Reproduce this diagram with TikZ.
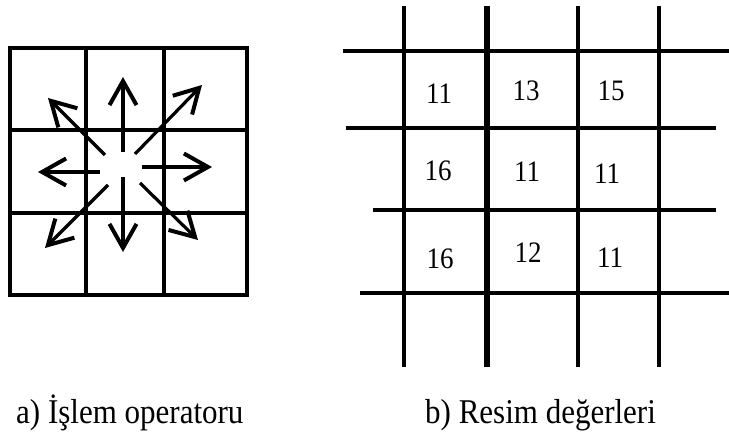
\documentclass[tikz,border=0pt]{standalone}
\usepackage{fontspec}
\setmainfont{Liberation Serif}
\usetikzlibrary{arrows.meta}
\begin{document}
\begin{tikzpicture}[x=1pt,y=-1pt,
  gridline/.style={line width=3.6pt},
  thickline/.style={line width=4.6pt},
  dirarrow/.style={line width=3.2pt,-{Straight Barb[length=24pt,width=27pt,line width=4pt]}},
  val/.style={inner sep=0pt,font=\fontsize{27}{30}\selectfont,yscale=1.1,transform shape},
  caption/.style={inner sep=0pt,anchor=base west,font=\fontsize{31}{36}\selectfont,yscale=1.12,transform shape}]
\useasboundingbox (0,0) rectangle (729,435);
% ---- left operator grid ----
\draw[gridline] (10,48) rectangle (247,295);
\draw[gridline] (86,48) -- (86,295);
\draw[gridline] (164,48) -- (164,295);
\draw[gridline] (10,130) -- (247,130);
\draw[gridline] (10,213) -- (249,213);
\draw[thickline] (10,295) -- (247,295);
% arrows
\coordinate (c) at (123,168);
\draw[dirarrow] (123,152) -- (123,77);
\draw[dirarrow] (123,177) -- (123,252);
\draw[dirarrow] (100,172) -- (38,172);
\draw[dirarrow] (142,167) -- (212,167);
\draw[dirarrow] (105,155) -- (48,98);
\draw[dirarrow] (135,154) -- (202,85);
\draw[dirarrow] (108,185) -- (45,248);
\draw[dirarrow] (140,183) -- (198,240);
% ---- right value grid ----
\draw[gridline] (404,30) -- (404,367);
\draw[line width=4.6pt] (404,6) -- (404,30);
\draw[line width=5.2pt] (487,6) -- (487,367);
\draw[gridline] (578,6) -- (578,367);
\draw[gridline] (659,6) -- (659,367);
\draw[thickline] (343,51) -- (729,51);
\draw[gridline] (346,128) -- (716,128);
\draw[gridline] (373,210) -- (716,210);
\draw[thickline] (360,293) -- (729,293);
% values
\node[val] (v11) at (439,94) {11};
\node[val] (v12) at (526,91) {13};
\node[val] (v13) at (611,91) {15};
\node[val] (v21) at (438,171) {16};
\node[val] (v22) at (527,172) {11};
\node[val] (v23) at (607,174) {11};
\node[val] (v31) at (440,259) {16};
\node[val] (v32) at (528,253) {12};
\node[val] (v33) at (610,258) {11};
% captions
\node[caption] (capa) at (16,424) {a) İşlem operatoru};
\node[caption] (capb) at (425,424) {b) Resim değerleri};
\end{tikzpicture}
\end{document}
